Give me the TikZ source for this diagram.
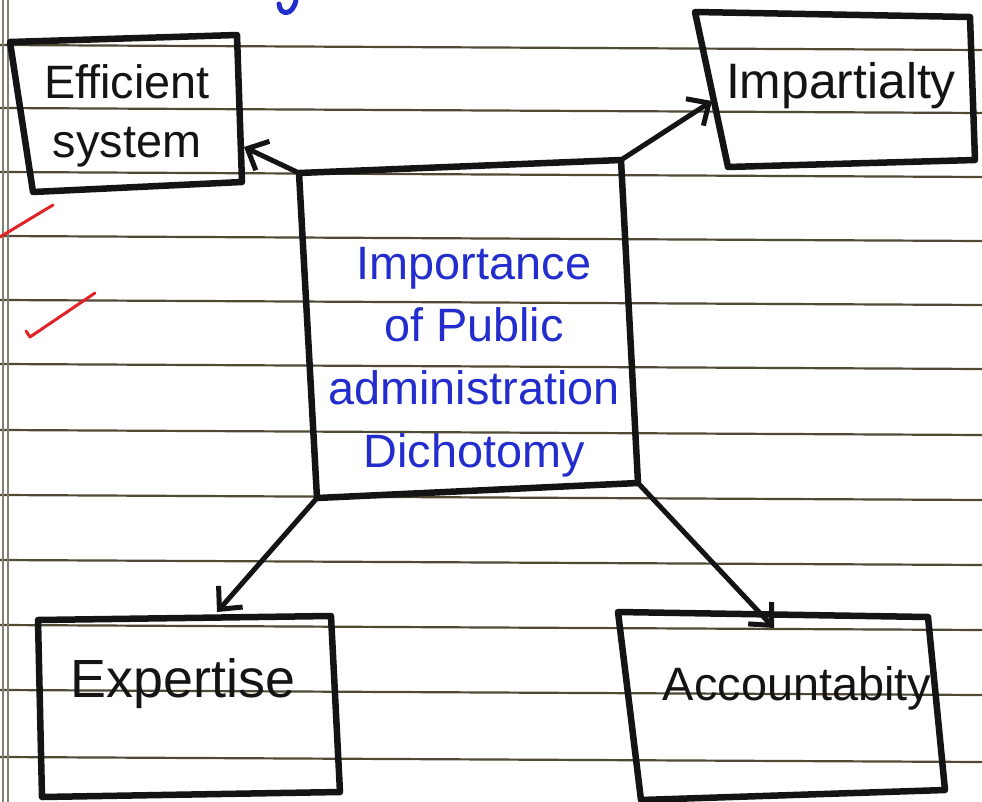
\documentclass[tikz,border=0pt]{standalone}
\usepackage{fontspec}
\setmainfont{Liberation Sans}
\usetikzlibrary{arrows.meta}
\definecolor{ink}{RGB}{20,20,20}
\definecolor{blueink}{RGB}{35,45,205}
\definecolor{rulec}{RGB}{80,74,52}
\definecolor{redink}{RGB}{225,35,40}
\begin{document}
\begin{tikzpicture}[x=1bp,y=-1bp,
  boxline/.style={draw=ink,line width=6.5bp,line join=round,line cap=round},
  conn/.style={draw=ink,line width=5bp,line cap=round,-{Straight Barb[length=17bp,width=32bp]}},
  label/.style={font=\fontsize{47}{60}\selectfont,text=ink,align=center,inner sep=0pt},
  mainlabel/.style={font=\fontsize{47}{63}\selectfont,text=blueink,align=center,inner sep=0pt},
  paperrule/.style={draw=rulec,line width=2.2bp},
  redmark/.style={draw=redink,line width=3bp,line cap=round,line join=round}]
\useasboundingbox[fill=white] (0,0) rectangle (982,802);
% paper
\foreach \yy in {45,108,172,236,300,364,430,495,560,625,690,757}{
  \draw[paperrule] (0,\yy) -- (982,\yy+5);
}
\draw[draw=rulec!70,line width=1.2bp] (3,0) -- (3,802);
\draw[draw=rulec!70,line width=1.2bp] (8,0) -- (8,802);
% fragment of writing above
\draw[draw=blueink,line width=5bp,line cap=round] (296,0) .. controls (293,16) and (280,16) .. (279,4);
% red marks
\draw[redmark] (0,237) -- (53,205);
\draw[redmark] (26,331) -- (30,337) -- (95,293);
% boxes corners
\coordinate (e1) at (10,42);  \coordinate (e2) at (237,35);  \coordinate (e3) at (242,182); \coordinate (e4) at (33,192);
\coordinate (i1) at (695,12); \coordinate (i2) at (970,17);  \coordinate (i3) at (975,160); \coordinate (i4) at (728,167);
\coordinate (c1) at (299,173); \coordinate (c2) at (621,160); \coordinate (c3) at (638,483); \coordinate (c4) at (317,498);
\coordinate (x1) at (38,620); \coordinate (x2) at (331,616); \coordinate (x3) at (340,792); \coordinate (x4) at (42,797);
\coordinate (a1) at (618,612); \coordinate (a2) at (928,617); \coordinate (a3) at (945,790); \coordinate (a4) at (641,800);
\draw[boxline] (e1) -- (e2) -- (e3) -- (e4) -- cycle;
\draw[boxline] (i1) -- (i2) -- (i3) -- (i4) -- cycle;
\draw[boxline] (c1) -- (c2) -- (c3) -- (c4) -- cycle;
\draw[boxline] (x1) -- (x2) -- (x3) -- (x4) -- cycle;
\draw[boxline] (a1) -- (a2) -- (a3) -- (a4) -- cycle;
% labels
\node[label] (eff) at (127,116) {Efficient\\system};
\node[label,font=\fontsize{50}{60}\selectfont] (imp) at (841,86) {Impartialty};
\node[mainlabel] (cen) at (474,362) {Importance\\of Public\\administration\\Dichotomy};
\node[label,font=\fontsize{54}{60}\selectfont] (exp) at (183,684) {Expertise};
\node[label] (acc) at (797,688) {Accountabity};
% arrow ends
\coordinate (effIn) at (244,147);
\coordinate (impIn) at (712,101);
\coordinate (expIn) at (217,612);
\coordinate (accIn) at (774,628);
\draw[conn] (c1) -- (effIn);
\draw[conn] (c2) -- (impIn);
\draw[conn] (c4) -- (expIn);
\draw[conn] (c3) -- (accIn);
\end{tikzpicture}
\end{document}
